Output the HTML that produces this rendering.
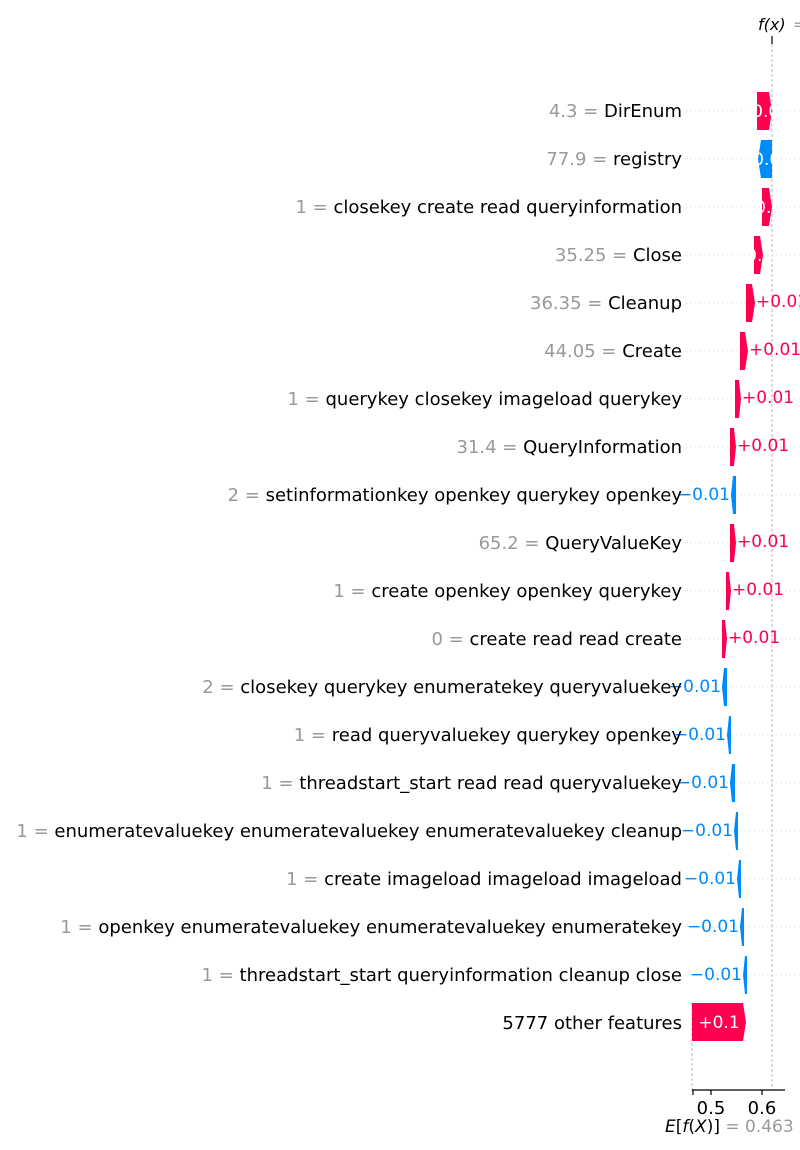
<!DOCTYPE html>
<html><head><meta charset="utf-8"><style>
html,body{margin:0;padding:0;background:#fff;}
svg{display:block;font-family:"DejaVu Sans","Liberation Sans",sans-serif;}
</style></head><body>
<svg width="800" height="1150" viewBox="0 0 800 1150" xmlns="http://www.w3.org/2000/svg">
<g stroke="#ddd" stroke-width="1" stroke-dasharray="1.5,3">
<line x1="686" y1="111" x2="800" y2="111"/><line x1="686" y1="159" x2="800" y2="159"/><line x1="686" y1="207" x2="800" y2="207"/><line x1="686" y1="255" x2="800" y2="255"/><line x1="686" y1="303" x2="800" y2="303"/><line x1="686" y1="351" x2="800" y2="351"/><line x1="686" y1="399" x2="800" y2="399"/><line x1="686" y1="447" x2="800" y2="447"/><line x1="686" y1="495" x2="800" y2="495"/><line x1="686" y1="543" x2="800" y2="543"/><line x1="686" y1="591" x2="800" y2="591"/><line x1="686" y1="639" x2="800" y2="639"/><line x1="686" y1="687" x2="800" y2="687"/><line x1="686" y1="735" x2="800" y2="735"/><line x1="686" y1="783" x2="800" y2="783"/><line x1="686" y1="831" x2="800" y2="831"/><line x1="686" y1="879" x2="800" y2="879"/><line x1="686" y1="927" x2="800" y2="927"/><line x1="686" y1="975" x2="800" y2="975"/>
</g>
<g stroke="#bbb" stroke-width="1" stroke-dasharray="3,2">
<line x1="772" y1="44" x2="772" y2="1090"/>
<line x1="692" y1="1003" x2="692" y2="1090"/>
</g>
<line x1="772" y1="36" x2="772" y2="44" stroke="#000" stroke-width="1.2"/>
<text x="758" y="30" font-size="16" font-style="italic">f(x)</text><text x="793" y="30" font-size="16" fill="#999">=</text>
<g id="bars">
<polygon fill="#ff0051" points="757,92 769,92 772,111 769,130 757,130"/>
<polygon fill="#008bfb" points="761,140 772,140 772,178 761,178 758,159"/>
<polygon fill="#ff0051" points="762,188 769,188 772,207 769,226 762,226"/>
<polygon fill="#ff0051" points="754,236 760,236 763,255 760,274 754,274"/>
<polygon fill="#ff0051" points="746,284 752,284 755,303 752,322 746,322"/>
<polygon fill="#ff0051" points="740,332 745,332 748,351 745,370 740,370"/>
<polygon fill="#ff0051" points="735,380 739,380 741,399 739,418 735,418"/>
<polygon fill="#ff0051" points="730,428 734,428 736,447 734,466 730,466"/>
<polygon fill="#008bfb" points="733,476 736,476 736,514 733,514 731,495"/>
<polygon fill="#ff0051" points="730,524 734,524 736,543 734,562 730,562"/>
<polygon fill="#ff0051" points="726,572 729,572 731,591 729,610 726,610"/>
<polygon fill="#ff0051" points="722,620 725,620 727,639 725,658 722,658"/>
<polygon fill="#008bfb" points="724,668 727,668 727,706 724,706 722,687"/>
<polygon fill="#008bfb" points="729,716 731,716 731,754 729,754 727,735"/>
<polygon fill="#008bfb" points="732,764 735,764 735,802 732,802 730,783"/>
<polygon fill="#008bfb" points="736,812 738,812 738,850 736,850 734,831"/>
<polygon fill="#008bfb" points="739,860 741,860 741,898 739,898 737,879"/>
<polygon fill="#008bfb" points="742,908 744,908 744,946 742,946 740,927"/>
<polygon fill="#008bfb" points="745,956 747,956 747,994 745,994 743,975"/>
<polygon fill="#ff0051" points="692,1003 743,1003 746,1022 743,1041 692,1041"/>
</g>
<g font-size="17" fill="#fff" text-anchor="middle">
<text x="764" y="117">+0.03</text><text x="765" y="165">−0.03</text><text x="767" y="213">+0.02</text><text x="758" y="261">+0.02</text>
<text x="719" y="1028">+0.1</text>
</g>
<g font-size="17" fill="#ff0051">
<text x="756" y="307">+0.01</text><text x="749" y="355">+0.01</text><text x="742" y="403">+0.01</text><text x="737" y="451">+0.01</text><text x="737" y="547">+0.01</text><text x="732" y="595">+0.01</text><text x="728" y="643">+0.01</text>
</g>
<g font-size="17" fill="#008bfb" text-anchor="end">
<text x="730" y="500">−0.01</text><text x="721" y="692">−0.01</text><text x="726" y="740">−0.01</text><text x="729" y="788">−0.01</text><text x="733" y="836">−0.01</text><text x="736" y="884">−0.01</text><text x="739" y="932">−0.01</text><text x="742" y="980">−0.01</text>
</g>
<g font-size="18" text-anchor="end">
<text x="682" y="117"><tspan fill="#999">4.3 = </tspan>DirEnum</text>
<text x="682" y="165"><tspan fill="#999">77.9 = </tspan>registry</text>
<text x="682" y="213"><tspan fill="#999">1 = </tspan>closekey create read queryinformation</text>
<text x="682" y="261"><tspan fill="#999">35.25 = </tspan>Close</text>
<text x="682" y="309"><tspan fill="#999">36.35 = </tspan>Cleanup</text>
<text x="682" y="357"><tspan fill="#999">44.05 = </tspan>Create</text>
<text x="682" y="405"><tspan fill="#999">1 = </tspan>querykey closekey imageload querykey</text>
<text x="682" y="453"><tspan fill="#999">31.4 = </tspan>QueryInformation</text>
<text x="682" y="501"><tspan fill="#999">2 = </tspan>setinformationkey openkey querykey openkey</text>
<text x="682" y="549"><tspan fill="#999">65.2 = </tspan>QueryValueKey</text>
<text x="682" y="597"><tspan fill="#999">1 = </tspan>create openkey openkey querykey</text>
<text x="682" y="645"><tspan fill="#999">0 = </tspan>create read read create</text>
<text x="682" y="693"><tspan fill="#999">2 = </tspan>closekey querykey enumeratekey queryvaluekey</text>
<text x="682" y="741"><tspan fill="#999">1 = </tspan>read queryvaluekey querykey openkey</text>
<text x="682" y="789"><tspan fill="#999">1 = </tspan>threadstart_start read read queryvaluekey</text>
<text x="682" y="837"><tspan fill="#999">1 = </tspan>enumeratevaluekey enumeratevaluekey enumeratevaluekey cleanup</text>
<text x="682" y="885"><tspan fill="#999">1 = </tspan>create imageload imageload imageload</text>
<text x="682" y="933"><tspan fill="#999">1 = </tspan>openkey enumeratevaluekey enumeratevaluekey enumeratekey</text>
<text x="682" y="981"><tspan fill="#999">1 = </tspan>threadstart_start queryinformation cleanup close</text>
<text x="682" y="1029">5777 other features</text>
</g>
<line x1="692" y1="1090" x2="785" y2="1090" stroke="#000" stroke-width="1.2"/>
<g stroke="#000" stroke-width="1.2">
<line x1="693" y1="1090" x2="693" y2="1095"/><line x1="711" y1="1090" x2="711" y2="1095"/><line x1="762" y1="1090" x2="762" y2="1095"/>
</g>
<g font-size="18" text-anchor="middle"><text x="711" y="1114">0.5</text><text x="762" y="1114">0.6</text></g>
<text x="665" y="1132" font-size="17"><tspan font-style="italic">E</tspan>[<tspan font-style="italic">f</tspan>(<tspan font-style="italic">X</tspan>)] <tspan fill="#999">= 0.463</tspan></text>
</svg>
</body></html>
